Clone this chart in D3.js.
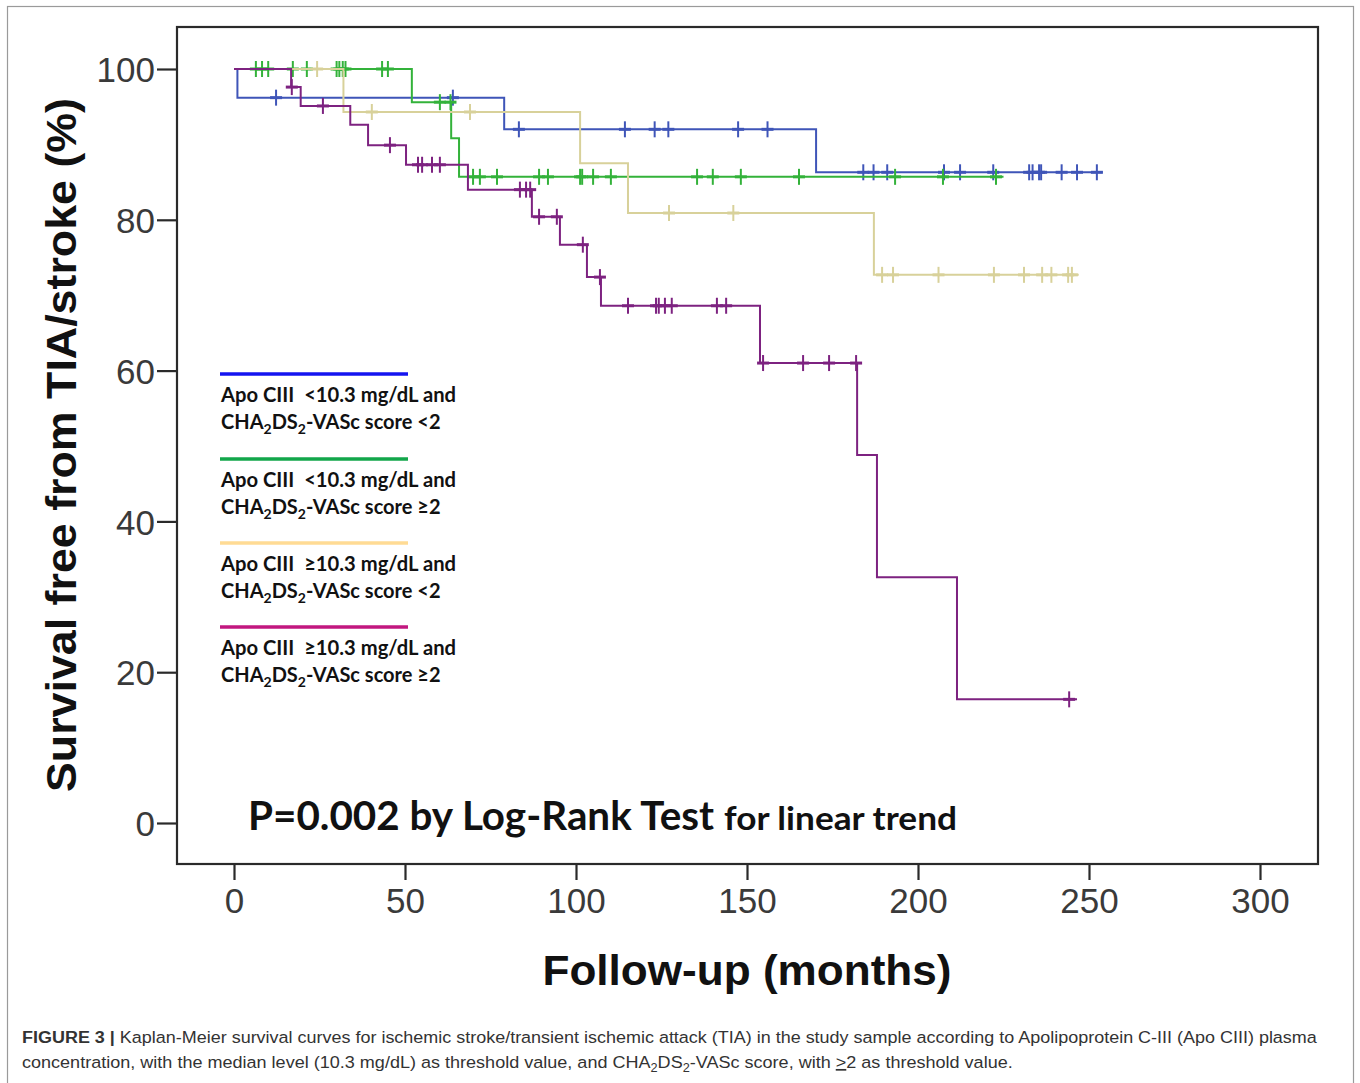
<!DOCTYPE html>
<html><head><meta charset="utf-8">
<script src="https://cdn.jsdelivr.net/npm/d3@7"></script>
<style>
body{margin:0;background:#fff;}
svg{display:block;}
</style></head>
<body>
<svg id="chart" width="1360" height="1083"></svg>
<script>
// ---- data ----
const xTicks = [0, 50, 100, 150, 200, 250, 300];
const yTicks = [0, 20, 40, 60, 80, 100];

// step points: [month, survival %]
const blueSteps   = [[0,100],[1,96.2],[79,92.0],[170.2,86.3]];
const blueEnd     = 254;
const blueCensor  = [12.3,64,83.3,114.3,123,127,147.4,156,184,187,191,207.6,212.3,222,232.5,233.5,235.4,236,242,246.5,252.3];

const greenSteps  = [[0,100],[52,95.6],[63.5,90.8],[65.8,85.7]];
const greenEnd    = 225;
const greenCensor = [6.4,8.2,10,17.2,21.3,30,30.8,31.8,32.6,43.3,45,60.2,63.3,69.9,71.9,76.9,89.2,91.8,101.2,101.8,105,110.2,135.4,140,148.2,165.2,193.3,207.3,222.8];

const yellowSteps  = [[0,100],[32,94.3],[101.2,87.5],[115.2,80.9],[187.1,72.7]];
const yellowEnd    = 247;
const yellowCensor = [24.3,40.3,69,127.2,146,189.5,192.7,206,222.2,231,236.3,239,243.9,245];

const purpleSteps  = [[0,100],[16.7,97.6],[19.5,95.1],[34,92.6],[39.2,89.9],[50.3,87.3],[68.4,84.0],[87.1,80.4],[95.3,76.7],[103.2,72.4],[107.3,68.6],[153.8,61.0],[182.2,48.8],[188,32.6],[211.4,16.4]];
const purpleEnd    = 246.5;
const purpleCensor = [16.9,26,45.6,53.8,55,57.9,60.2,83.6,85.4,86.6,89.2,94.4,102,107,115.2,123.4,124.2,126,128,141.2,143.9,154.7,166.4,174,181.9,244.2];

const seriesNames = [
  ["Apo CIII  <10.3 mg/dL and", "CHA|2|DS|2|-VASc score <2"],
  ["Apo CIII  <10.3 mg/dL and", "CHA|2|DS|2|-VASc score \u22652"],
  ["Apo CIII  \u226510.3 mg/dL and", "CHA|2|DS|2|-VASc score <2"],
  ["Apo CIII  \u226510.3 mg/dL and", "CHA|2|DS|2|-VASc score \u22652"]
];
const curveColors  = ["#3f55b8", "#33b23a", "#d8d19a", "#7d2280"];
const legendColors = ["#1414f0", "#12a64a", "#ffdb94", "#c2177f"];

const series = [
  {steps: blueSteps, end: blueEnd, censor: blueCensor},
  {steps: greenSteps, end: greenEnd, censor: greenCensor},
  {steps: yellowSteps, end: yellowEnd, censor: yellowCensor},
  {steps: purpleSteps, end: purpleEnd, censor: purpleCensor}
];

// ---- layout ----
const svg = d3.select("#chart");
const frame = {left: 177, top: 27, right: 1318, bottom: 864};
const x = d3.scaleLinear().domain([0, 300]).range([234, 1260]);
const y = d3.scaleLinear().domain([0, 100]).range([823, 69]);

// outer figure border
svg.append("rect").attr("x", 7.5).attr("y", 6.5).attr("width", 1346).attr("height", 1090)
  .attr("fill", "none").attr("stroke", "#9a9a9a").attr("stroke-width", 1.2);

// plot frame
svg.append("rect").attr("x", frame.left).attr("y", frame.top)
  .attr("width", frame.right - frame.left).attr("height", frame.bottom - frame.top)
  .attr("fill", "#fff").attr("stroke", "#2a2a2a").attr("stroke-width", 2.2);

// axes
const axisFont = "'Liberation Sans', Arial, sans-serif";
const xAxis = d3.axisBottom(x).tickValues(xTicks).tickSize(16).tickPadding(8);
const gx = svg.append("g").attr("transform", `translate(0,${frame.bottom})`).call(xAxis);
gx.select(".domain").remove();
gx.selectAll(".tick line").attr("stroke", "#2a2a2a").attr("stroke-width", 2.2);
gx.selectAll(".tick text").attr("font-family", axisFont)
  .attr("font-size", 35).attr("fill", "#3a3a3a");

const yAxis = d3.axisLeft(y).tickValues(yTicks).tickSize(20).tickPadding(2);
const gy = svg.append("g").attr("transform", `translate(${frame.left},0)`).call(yAxis);
gy.select(".domain").remove();
gy.selectAll(".tick line").attr("stroke", "#2a2a2a").attr("stroke-width", 2.2);
gy.selectAll(".tick text").attr("font-family", axisFont)
  .attr("font-size", 35).attr("fill", "#3a3a3a").attr("dy", "0.36em");

// axis titles
svg.append("text").attr("transform", "translate(76,445) rotate(-90)")
  .attr("text-anchor", "middle").attr("font-family", axisFont)
  .attr("font-weight", "bold").attr("font-size", 42).attr("fill", "#111")
  .attr("textLength", 694).attr("lengthAdjust", "spacingAndGlyphs")
  .text("Survival free from TIA/stroke (%)");
svg.append("text").attr("x", 747).attr("y", 985)
  .attr("text-anchor", "middle").attr("font-family", axisFont)
  .attr("font-weight", "bold").attr("font-size", 42).attr("fill", "#111")
  .attr("textLength", 409).attr("lengthAdjust", "spacingAndGlyphs")
  .text("Follow-up (months)");

// curves
function survAt(steps, t) {
  let v = steps[0][1];
  for (const s of steps) { if (s[0] <= t) v = s[1]; }
  return v;
}
const line = d3.line().x(d => x(d[0])).y(d => y(d[1])).curve(d3.curveStepAfter);
const g = svg.append("g");
series.forEach((s, i) => {
  const pts = s.steps.slice();
  pts.push([s.end, s.steps[s.steps.length - 1][1]]);
  g.append("path").datum(pts).attr("d", line).attr("fill", "none")
    .attr("stroke", curveColors[i]).attr("stroke-width", 2);
  const cg = g.append("g").attr("stroke", curveColors[i]).attr("stroke-width", 2);
  s.censor.forEach(t => {
    const cx = x(t), cy = y(survAt(s.steps, t));
    cg.append("line").attr("x1", cx).attr("x2", cx).attr("y1", cy - 8).attr("y2", cy + 8);
    cg.append("line").attr("x1", cx - 6).attr("x2", cx + 6).attr("y1", cy).attr("y2", cy).attr("stroke-width", 3);
  });
});

// legend
const legFont = "Lato, 'Open Sans', sans-serif";
const legendY = [374, 459, 543, 627];
seriesNames.forEach((nm, i) => {
  const ly = legendY[i];
  svg.append("line").attr("x1", 220).attr("x2", 408).attr("y1", ly).attr("y2", ly)
    .attr("stroke", legendColors[i]).attr("stroke-width", 3.5);
  svg.append("text").attr("x", 221).attr("y", ly + 28)
    .attr("font-family", legFont).attr("font-weight", "bold")
    .attr("font-size", 20).attr("fill", "#111").attr("xml:space", "preserve")
    .attr("textLength", 235).attr("lengthAdjust", "spacingAndGlyphs").text(nm[0]);
  const t2 = svg.append("text").attr("x", 221).attr("y", ly + 55)
    .attr("font-family", legFont).attr("font-weight", "bold")
    .attr("font-size", 20).attr("fill", "#111");
  nm[1].split("|").forEach((part, k) => {
    const sp = t2.append("tspan").text(part);
    if (k % 2 === 1) sp.attr("font-size", 14).attr("dy", 5);
    else if (k > 0) sp.attr("dy", -5);
  });
});

// p-value annotation
svg.append("text").attr("x", 248).attr("y", 830)
  .attr("font-family", legFont).attr("font-weight", "bold").attr("fill", "#111")
  .attr("font-size", 40).attr("textLength", 466).attr("lengthAdjust", "spacingAndGlyphs")
  .text("P=0.002 by Log-Rank Test");
svg.append("text").attr("x", 724).attr("y", 830)
  .attr("font-family", legFont).attr("font-weight", "bold").attr("fill", "#111")
  .attr("font-size", 33).attr("textLength", 233).attr("lengthAdjust", "spacingAndGlyphs")
  .text("for linear trend");

// caption
const capFont = "'Liberation Sans Narrow', 'Liberation Sans', Arial, sans-serif";
const c1 = svg.append("text").attr("transform", "translate(22,1043) scale(1.057,1)").attr("font-family", capFont)
  .attr("font-size", 17).attr("fill", "#333");
c1.append("tspan").attr("font-weight", "bold").text("FIGURE 3 | ");
c1.append("tspan").text("Kaplan-Meier survival curves for ischemic stroke/transient ischemic attack (TIA) in the study sample according to Apolipoprotein C-III (Apo CIII) plasma");
const c2 = svg.append("text").attr("transform", "translate(22,1068) scale(1.062,1)").attr("font-family", capFont)
  .attr("font-size", 17).attr("fill", "#333");
c2.append("tspan").text("concentration, with the median level (10.3 mg/dL) as threshold value, and CHA");
c2.append("tspan").attr("font-size", 12).attr("dy", 4).text("2");
c2.append("tspan").attr("dy", -4).text("DS");
c2.append("tspan").attr("font-size", 12).attr("dy", 4).text("2");
c2.append("tspan").attr("dy", -4).text("-VASc score, with ");
c2.append("tspan").attr("text-decoration", "underline").text(">");
c2.append("tspan").text("2 as threshold value.");
</script>
</body></html>
